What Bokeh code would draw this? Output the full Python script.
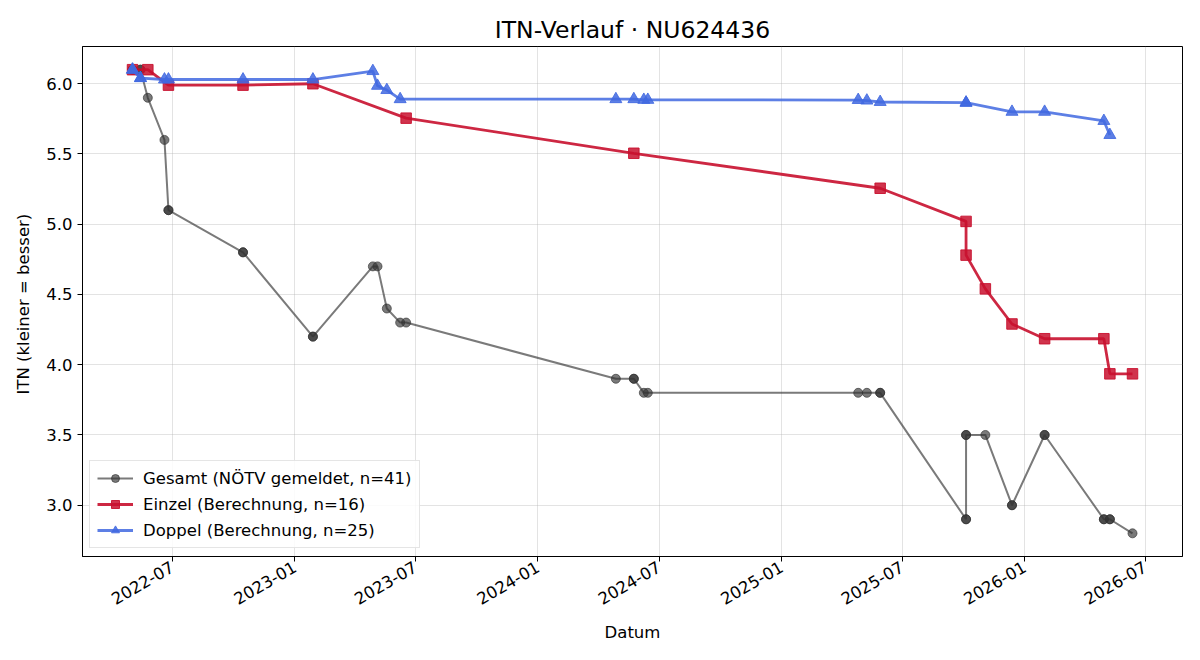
import math
import pandas as pd
from bokeh.plotting import figure
from bokeh.models import (Range1d, FixedTicker, DatetimeTickFormatter, Legend,
                          LegendItem, NumeralTickFormatter, ColumnDataSource)
from bokeh.embed import file_html
from bokeh.resources import INLINE

# ---------------- data ----------------
gesamt_dates = ["2022-05-02", "2022-05-02", "2022-05-02", "2022-05-14", "2022-05-14",
                "2022-05-25", "2022-06-19", "2022-06-25", "2022-06-25",
                "2022-10-15", "2022-10-15", "2023-01-28", "2023-01-28",
                "2023-04-28", "2023-05-05", "2023-05-19", "2023-06-08", "2023-06-17",
                "2024-04-27", "2024-05-24", "2024-05-24", "2024-06-08", "2024-06-14",
                "2025-04-26", "2025-05-09", "2025-05-29", "2025-05-29",
                "2025-10-05", "2025-10-05", "2025-10-05", "2025-10-05",
                "2025-11-03", "2025-12-13", "2025-12-13", "2026-01-31", "2026-01-31",
                "2026-04-30", "2026-04-30", "2026-05-09", "2026-05-09", "2026-06-12"]
gesamt_itn = [6.1, 6.1, 6.1, 6.1, 6.1,
              5.9, 5.6, 5.1, 5.1,
              4.8, 4.8, 4.2, 4.2,
              4.7, 4.7, 4.4, 4.3, 4.3,
              3.9, 3.9, 3.9, 3.8, 3.8,
              3.8, 3.8, 3.8, 3.8,
              2.9, 2.9, 3.5, 3.5,
              3.5, 3.0, 3.0, 3.5, 3.5,
              2.9, 2.9, 2.9, 2.9, 2.8]

einzel_dates = ["2022-05-02", "2022-05-25", "2022-06-25", "2022-10-15", "2023-01-28",
                "2023-06-17", "2024-05-24", "2025-05-29", "2025-10-05", "2025-10-05",
                "2025-11-03", "2025-12-13", "2026-01-31", "2026-04-30", "2026-05-09",
                "2026-06-12"]
einzel_itn = [6.10, 6.10, 5.99, 5.99, 6.00,
              5.755, 5.505, 5.256, 5.02, 4.78,
              4.54, 4.29, 4.185, 4.185, 3.935,
              3.935]

doppel_dates = ["2022-05-02", "2022-05-02", "2022-05-14", "2022-05-14", "2022-06-19",
                "2022-06-25", "2022-10-15", "2023-01-28", "2023-04-28", "2023-05-05",
                "2023-05-19", "2023-06-08", "2024-04-27", "2024-05-24", "2024-06-08",
                "2024-06-14", "2025-04-26", "2025-05-09", "2025-05-29", "2025-10-05",
                "2025-10-05", "2025-12-13", "2026-01-31", "2026-04-30", "2026-05-09"]
doppel_itn = [6.10, 6.10, 6.04, 6.04, 6.03,
              6.03, 6.03, 6.03, 6.09, 5.985,
              5.955, 5.89, 5.89, 5.89, 5.885,
              5.885, 5.884, 5.88, 5.87, 5.865,
              5.865, 5.80, 5.80, 5.735, 5.635]

x_tick_labels = ["2022-07", "2023-01", "2023-07", "2024-01", "2024-07",
                 "2025-01", "2025-07", "2026-01", "2026-07"]
y_ticks = [3.0, 3.5, 4.0, 4.5, 5.0, 5.5, 6.0]

title_text = "ITN-Verlauf · NU624436"
x_label = "Datum"
y_label = "ITN  (kleiner = besser)"
labels = ["Gesamt (NÖTV gemeldet, n=41)", "Einzel (Berechnung, n=16)",
          "Doppel (Berechnung, n=25)"]

# ---------------- build ----------------
FONT = "DejaVu Sans"
FS = "16.5px"
g_x = pd.to_datetime(gesamt_dates)
e_x = pd.to_datetime(einzel_dates)
d_x = pd.to_datetime(doppel_dates)

all_x = list(g_x) + list(e_x) + list(d_x)
xmin, xmax = min(all_x), max(all_x)
xspan = xmax - xmin
all_y = gesamt_itn + einzel_itn + doppel_itn
ymin, ymax = min(all_y), max(all_y)
yspan = ymax - ymin

p = figure(width=1200, height=660, output_backend="svg", toolbar_location=None,
           x_axis_type="datetime",
           x_range=Range1d(xmin - 0.05 * xspan, xmax + 0.05 * xspan),
           y_range=Range1d(ymin - 0.05 * yspan, ymax + 0.05 * yspan),
           min_border_left=82, min_border_right=18, min_border_top=46,
           min_border_bottom=104)

p.title.text = title_text
p.title.align = "center"
p.title.text_font = FONT
p.title.text_font_size = "23.5px"
p.title.text_font_style = "normal"
p.title.text_color = "#000000"
p.title.standoff = 6

p.outline_line_color = "#000000"
p.outline_line_width = 1
p.outline_line_alpha = 1

for ax in (p.xaxis[0], p.yaxis[0]):
    ax.major_label_text_font = FONT
    ax.major_label_text_font_size = FS
    ax.major_label_text_color = "#000000"
    ax.axis_label_text_font = FONT
    ax.axis_label_text_font_size = FS
    ax.axis_label_text_font_style = "normal"
    ax.axis_label_text_color = "#000000"
    ax.minor_tick_line_color = None
    ax.major_tick_in = 0
    ax.major_tick_out = 5
    ax.major_tick_line_color = "#000000"
    ax.axis_line_color = "#000000"

tick_ms = [pd.Timestamp(t + "-01").timestamp() * 1000 for t in x_tick_labels]
p.xaxis.ticker = FixedTicker(ticks=tick_ms)
fmt = "%Y-%m"
p.xaxis.formatter = DatetimeTickFormatter(days=fmt, months=fmt, years=fmt,
                                          hours=fmt, minutes=fmt)
p.xaxis.major_label_orientation = math.pi / 6
p.xaxis.axis_label = x_label
p.xaxis.major_label_standoff = 4
p.xaxis.axis_label_standoff = 10

p.yaxis.ticker = FixedTicker(ticks=y_ticks)
p.yaxis.formatter = NumeralTickFormatter(format="0.0")
p.yaxis.axis_label = y_label
p.yaxis.major_label_standoff = 5
p.yaxis.axis_label_standoff = 10

p.grid.grid_line_color = "#b0b0b0"
p.grid.grid_line_alpha = 0.35
p.grid.grid_line_width = 1

gsrc = ColumnDataSource(dict(x=g_x, y=gesamt_itn))
esrc = ColumnDataSource(dict(x=e_x, y=einzel_itn))
dsrc = ColumnDataSource(dict(x=d_x, y=doppel_itn))

GCOL = "#333333"
ECOL = "#c8102e"
DCOL = "#4169e1"

g_line = p.line("x", "y", source=gsrc, line_color=GCOL, line_alpha=0.65, line_width=2)
g_pts = p.scatter("x", "y", source=gsrc, marker="circle", size=9,
                  fill_color=GCOL, fill_alpha=0.65, line_color=GCOL, line_alpha=0.65)
e_line = p.line("x", "y", source=esrc, line_color=ECOL, line_alpha=0.9, line_width=2.8)
e_pts = p.scatter("x", "y", source=esrc, marker="square", size=10.5,
                  fill_color=ECOL, fill_alpha=0.85, line_color=ECOL, line_alpha=0.9)
d_line = p.line("x", "y", source=dsrc, line_color=DCOL, line_alpha=0.85, line_width=2.8)
d_pts = p.scatter("x", "y", source=dsrc, marker="triangle", size=12,
                  fill_color=DCOL, fill_alpha=0.85, line_color=DCOL, line_alpha=0.85)

legend = Legend(items=[LegendItem(label=labels[0], renderers=[g_line, g_pts]),
                       LegendItem(label=labels[1], renderers=[e_line, e_pts]),
                       LegendItem(label=labels[2], renderers=[d_line, d_pts])],
                location=(7, 8))
legend.label_text_font = FONT
legend.label_text_font_size = FS
legend.label_text_color = "#000000"
legend.glyph_width = 36
legend.glyph_height = 20
legend.label_height = 20
legend.label_standoff = 10
legend.spacing = 6
legend.padding = 7
legend.margin = 0
legend.border_line_color = "#cccccc"
legend.border_line_width = 1
legend.background_fill_alpha = 0.85
p.add_layout(legend, "center")

open("out.html", "w").write(file_html(p, INLINE))
